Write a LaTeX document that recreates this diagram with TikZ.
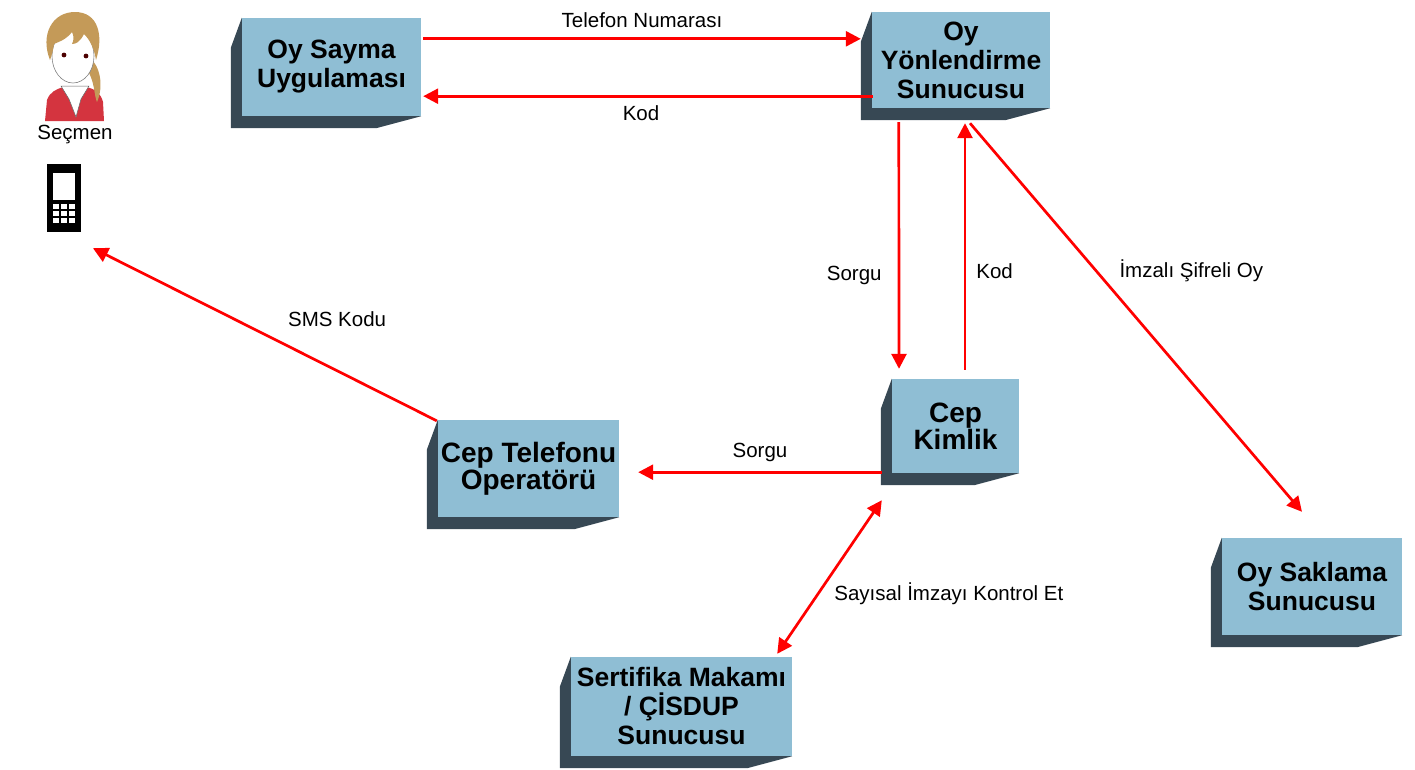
\documentclass[tikz,border=0pt]{standalone}
\usepackage{fontspec}
\setmainfont{Liberation Sans}
\usetikzlibrary{arrows.meta,positioning,calc}
\definecolor{accent}{HTML}{8FBED4}
\definecolor{bevel}{HTML}{374854}
\definecolor{flow}{HTML}{FF0000}
\definecolor{hair}{HTML}{C49A58}
\definecolor{shirt}{HTML}{D4343F}
\newcommand{\srvfont}{\fontsize{26.5}{29}\selectfont\bfseries\lineskiplimit=-20pt}
\newcommand{\cepfont}{\fontsize{28}{27.5}\selectfont\bfseries\lineskiplimit=-20pt}
\newcommand{\lblfont}{\fontsize{20.5}{24}\selectfont}

\begin{document}
\begin{tikzpicture}[
  x=1pt, y=-1pt,
  >={Triangle[length=15pt,width=15pt]},
  server/.style={fill=accent, align=center, inner sep=0pt, font=\srvfont},
  arr/.style={->, line width=2.7pt, draw=flow},
  lbl/.style={font=\lblfont, inner sep=2pt}
]
  \useasboundingbox (0,0) rectangle (1415,769);

  \node[server, minimum width=179pt, minimum height=98pt] (sayma) at (331.5,67) {Oy Sayma\\Uygulaması};
  \node[server, minimum width=178pt, minimum height=96pt] (yonl) at (961,60) {Oy\\Yönlendirme\\Sunucusu};
  \node[server, font=\cepfont, minimum width=127pt, minimum height=94pt] (kimlik) at (955.5,426) {Cep\\Kimlik};
  \node[server, font=\cepfont, minimum width=181pt, minimum height=97pt] (operator) at (528.5,468.5) {Cep Telefonu\\Operatörü};
  \node[server, minimum width=221pt, minimum height=99pt] (sertifika) at (681.5,706.5) {Sertifika Makamı\\/ ÇİSDUP\\Sunucusu};
  \node[server, minimum width=180pt, minimum height=97pt] (saklama) at (1312,586.5) {Oy Saklama\\Sunucusu};

  % dark bevel on the left and bottom of every box
  \foreach \n in {sayma,yonl,kimlik,operator,sertifika,saklama}
    \fill[bevel] (\n.north west) -- ++(-11,30) -- ($(\n.south west)+(-11,12)$)
      -- ($(\n.south east)+(-45,12)$) -- (\n.south east) -- (\n.south west) -- cycle;

  % voter
  \fill[shirt] (45,121) -- (47,100) .. controls (50,92) and (56,89) .. (64,87) -- (86,87)
    .. controls (96,89) and (101,94) .. (103,102) -- (104,121) -- cycle;
  \filldraw[fill=white, draw=black!60, line width=.5pt] (61,86) -- (69,99) -- (76,117) -- (81,99) -- (89,86) -- cycle;
  \fill[hair] (90,58) .. controls (100,66) and (104,86) .. (97,102) .. controls (94,96) and (95,80) .. (86,68) -- cycle;
  \filldraw[fill=white, draw=black!50, line width=.6pt] (73,56) ellipse (21 and 27);
  \fill[hair] (50,60) .. controls (40,35) and (52,12) .. (75,12) .. controls (98,12) and (104,35) .. (96,60)
    .. controls (94,48) and (90,40) .. (84,34) .. controls (80,42) and (76,44) .. (72,44)
    .. controls (74,40) and (74,36) .. (72,32) .. controls (66,40) and (58,42) .. (54,44)
    .. controls (53,50) and (52,55) .. (50,60) -- cycle;
  \fill[black!70!red] (64,55) circle (2.4) (86,56) circle (2.4);
  \node[lbl] (secmen) at (75,135) {Seçmen};

  % phone
  \node[fill=black, minimum width=34pt, minimum height=68pt, inner sep=0pt] (phone) at (64,198) {};
  \fill[white] ($(phone.north west)+(6,9)$) rectangle ++(22,27);
  \foreach \i in {0,1,2}
    \foreach \j in {0,1,2}
      \fill[white] ($(phone.north west)+(6+\i*8,40+\j*7)$) rectangle ++(6,5);

  \draw[arr] ($(sayma.north east)+(2,21)$) -- ($(yonl.west |- sayma.north east)+(-11,21)$)
    node[lbl, midway, yshift=18.8pt] {Telefon Numarası};
  \draw[arr] ($(yonl.south west)+(1,-12)$) -- ($(sayma.east |- yonl.south west)+(2,-12)$)
    node[lbl, midway, xshift=-7pt, yshift=-16.5pt] {Kod};
  \draw[arr] ($(yonl.south west)+(27,14)$) -- ($(kimlik.north)+(-56.5,-10)$)
    node[lbl, pos=.62, left=14pt] {Sorgu};
  \draw[arr] ($(kimlik.north)+(9.5,-9)$) -- ($(yonl.south)+(4,15)$)
    node[lbl, pos=.4, right=8pt] {Kod};
  \draw[arr] ($(yonl.south)+(9,15)$) -- ($(saklama.north)+(-10,-26)$)
    node[lbl, pos=.38, right=20pt] {İmzalı Şifreli Oy};
  \draw[arr] ($(kimlik.south west)+(-10,-1)$) -- ($(operator.east |- kimlik.south west)+(19,-1)$)
    node[lbl, midway, yshift=19.3pt] {Sorgu};
  \draw[arr] ($(operator.north west)+(-1,1)$) -- ($(phone.south)+(29,16)$)
    node[lbl, pos=.29, yshift=51.7pt] {SMS Kodu};
  \draw[arr, <->] ($(kimlik.south west)+(-10,27)$) -- ($(sertifika.north east)+(-15,-3)$)
    node[lbl, pos=.61, right=13pt] {Sayısal İmzayı Kontrol Et};
\end{tikzpicture}
\end{document}
